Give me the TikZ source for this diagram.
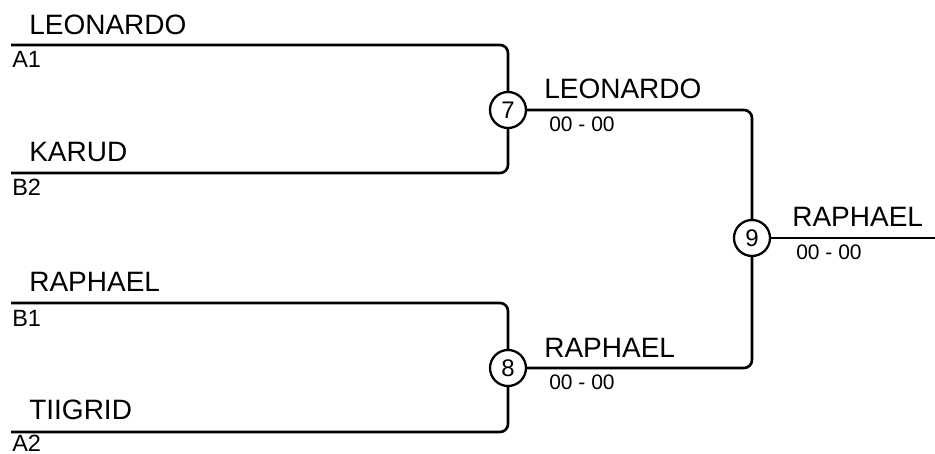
\documentclass[tikz,border=0pt]{standalone}
\usepackage{fontspec}
\setmainfont{Liberation Sans}
\usetikzlibrary{positioning}

\begin{document}
\begin{tikzpicture}[x=1pt, y=-1pt,
                    team/.style={anchor=base west, inner sep=0pt, font=\fontsize{28}{30}\selectfont},
                    seed/.style={anchor=base west, inner sep=0pt, font=\fontsize{23.5}{25}\selectfont},
                    score/.style={anchor=base west, inner sep=0pt, font=\fontsize{21}{23}\selectfont},
                    match/.style={circle, draw, line width=2.3pt, minimum size=36pt, inner sep=0pt, font=\fontsize{24}{26}\selectfont},
                    every path/.style={line width=2.6pt, rounded corners=8pt}]
\useasboundingbox (0,0) rectangle (935,454);

% Nodes
\coordinate (a1) at (11,45);
\coordinate (b2) at (11,173);
\coordinate (b1) at (11,303);
\coordinate (a2) at (11,432);
\coordinate (out) at (935,238);

\node[match] (m7) at (508,110) {7};
\node[match] (m8) at (508,368) {8};
\node[match] (m9) at (752,238) {9};

\node[team] (t1) at (28,35)  {LEONARDO};
\node[seed] (s1) at (11,68)  {A1};
\node[team] (t2) at (28,162) {KARUD};
\node[seed] (s2) at (11,196) {B2};
\node[team] (t3) at (28,292) {RAPHAEL};
\node[seed] (s3) at (11,327) {B1};
\node[team] (t4) at (28,420) {TIIGRID};
\node[seed] (s4) at (11,451) {A2};

\node[team]  (w7) at (543,99)  {LEONARDO};
\node[score] (r7) at (548,132) {00 - 00};
\node[team]  (w8) at (543,358) {RAPHAEL};
\node[score] (r8) at (548,390) {00 - 00};
\node[team]  (w9) at (791,227) {RAPHAEL};
\node[score] (r9) at (795,260) {00 - 00};

% Edges
\draw (a1) -| (m7);
\draw (b2) -| (m7);
\draw (b1) -| (m8);
\draw (a2) -| (m8);
\draw (m7) -| (m9);
\draw (m8) -| (m9);
\draw (m9) -- (out);

\end{tikzpicture}
\end{document}
